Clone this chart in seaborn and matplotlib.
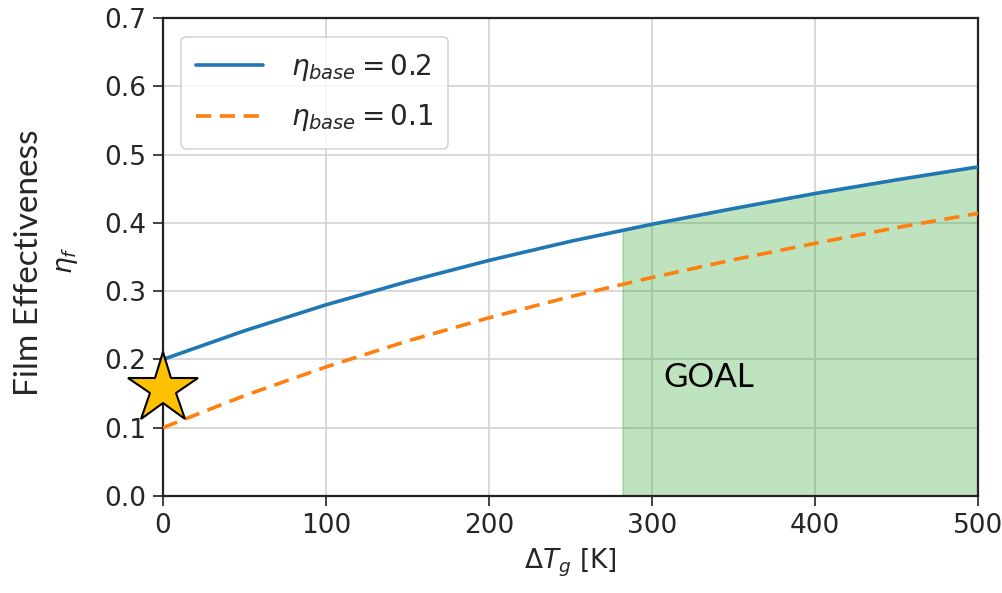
import numpy as np
import pandas as pd
import matplotlib
matplotlib.use("Agg")
import matplotlib.pyplot as plt
import seaborn as sns

# ---- data ----
delta_tg = [0, 50, 100, 150, 200, 250, 300, 350, 400, 450, 500]
eta_base_02 = [0.200, 0.242, 0.280, 0.314, 0.345, 0.373, 0.398, 0.421, 0.443, 0.463, 0.482]
eta_base_01 = [0.100, 0.147, 0.189, 0.227, 0.261, 0.292, 0.320, 0.346, 0.370, 0.393, 0.414]
goal_start = 282
star_x, star_y = 0, 0.157
x_ticks = [0, 100, 200, 300, 400, 500]
y_ticks = [0.0, 0.1, 0.2, 0.3, 0.4, 0.5, 0.6, 0.7]

sns.set_theme(style="ticks")
plt.rcParams["font.family"] = ["DejaVu Sans"]

fig = plt.figure(figsize=(10.02, 5.93), dpi=100)
ax = fig.add_axes([0.1627, 0.1636, 0.8134, 0.806])

df1 = pd.DataFrame({"x": delta_tg, "y": eta_base_02})
df2 = pd.DataFrame({"x": delta_tg, "y": eta_base_01})
sns.lineplot(data=df1, x="x", y="y", ax=ax, color="#1f77b4", lw=2.6,
             label=r"$\eta_{base} = 0.2$", zorder=3)
sns.lineplot(data=df2, x="x", y="y", ax=ax, color="#ff7f0e", lw=2.6,
             linestyle=(0, (4.2, 2.4)), label=r"$\eta_{base} = 0.1$", zorder=3)

# goal region under the upper curve
xs = np.linspace(goal_start, delta_tg[-1], 200)
ys = np.interp(xs, delta_tg, eta_base_02)
ax.fill_between(xs, 0, ys, color="#2ca02c", alpha=0.3, lw=1.2, zorder=2)

ax.text(307, 0.173, "GOAL", fontsize=24, family="Lato", va="center", ha="left",
        color="black", zorder=4)

ax.plot([star_x], [star_y], marker="*", ms=53, color="#FFC000",
        markeredgecolor="black", markeredgewidth=1.5, clip_on=False, zorder=6)

ax.set_xlim(0, 500)
ax.set_ylim(0, 0.7)
ax.set_xticks(x_ticks)
ax.set_yticks(y_ticks)
ax.set_xticklabels([str(v) for v in x_ticks])
ax.set_yticklabels([f"{v:.1f}" for v in y_ticks])
ax.tick_params(labelsize=19, length=7, width=1.2, color="#222222", pad=5)
ax.grid(True, color="#d6d6d6", lw=1.3, zorder=0)
ax.set_axisbelow(True)
for s in ax.spines.values():
    s.set_color("#222222")
    s.set_linewidth(1.6)
    s.set_visible(True)

ax.set_xlabel(r"$\Delta T_g$ [K]", fontsize=19, labelpad=6)
ax.set_ylabel("Film Effectiveness", fontsize=24, family="Lato")
ax.yaxis.set_label_coords(-0.146, 0.487)
ax.text(-0.118, 0.494, r"$\eta_f$", rotation=90, transform=ax.transAxes,
        ha="center", va="center", fontsize=19, color="#222222")

leg = ax.legend(loc="upper left", fontsize=20, frameon=True, fancybox=True,
                handlelength=2.4, borderpad=0.55, labelspacing=0.7,
                handletextpad=1.0, bbox_to_anchor=(0.005, 0.99))
leg.get_frame().set_edgecolor("#cccccc")
leg.get_frame().set_linewidth(1.2)

fig.savefig("out.png", dpi=100)
